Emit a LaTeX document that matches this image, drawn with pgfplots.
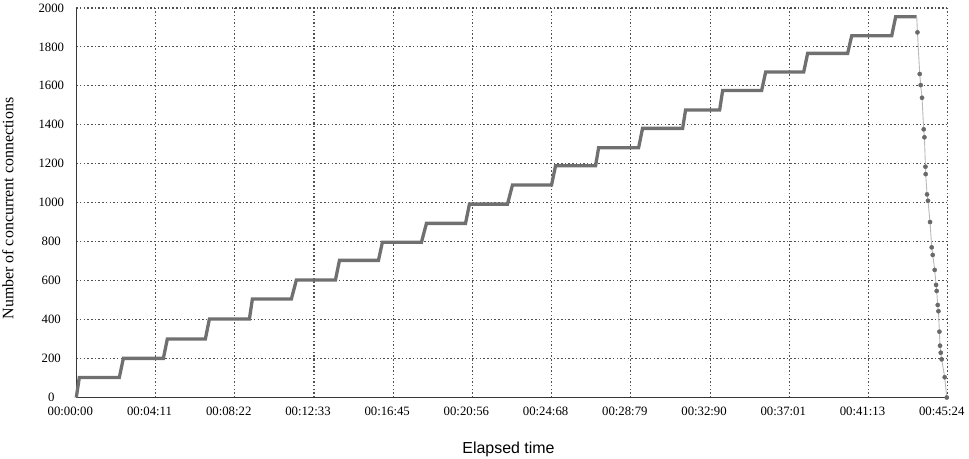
\documentclass[border=0pt]{standalone}
\usepackage{fontspec}
\setmainfont{Liberation Serif}
\newfontfamily\arialfont{Liberation Sans}
\usepackage{pgfplots}
\pgfplotsset{compat=1.18}
\definecolor{stair}{RGB}{112,112,112}
\definecolor{dropline}{RGB}{185,185,185}
\definecolor{dropmark}{RGB}{105,105,105}
\definecolor{gridc}{RGB}{80,80,80}
\definecolor{axc}{RGB}{55,55,55}
\begin{document}
\begin{tikzpicture}
\begin{axis}[
  name=ax,
  scale only axis,
  width=871.4bp, height=389.5bp,
  xmin=0, xmax=11, ymin=0, ymax=2000,
  axis x line*=bottom, axis y line*=left,
  axis line style={-, color=axc, line width=1bp},
  xtick={0,1,2,3,4,5,6,7,8,9,10,11},
  xticklabels={00:00:00,00:04:11,00:08:22,00:12:33,00:16:45,00:20:56,00:24:68,00:28:79,00:32:90,00:37:01,00:41:13,00:45:24},
  ytick={0,200,400,600,800,1000,1200,1400,1600,1800,2000},
  yticklabels={0,200,400,600,800,1000,1200,1400,1600,1800,2000},
  major tick length=0pt,
  grid=major,
  major grid style={color=gridc, line width=1.1bp, dash pattern=on 1.5bp off 2.2bp},
  xticklabel style={font=\fontsize{12.8}{14}\selectfont, anchor=base, yshift=-17.5bp, xshift=-6bp},
  yticklabel style={font=\fontsize{12.8}{14}\selectfont, anchor=base, xshift=-25bp, yshift=-4.1bp},
  xlabel={\arialfont Elapsed time},
  xlabel style={font=\fontsize{16}{18}\selectfont, at={(axis description cs:0.496,-0.1425)}, anchor=base},
  ylabel={Number of concurrent connections},
  ylabel style={font=\fontsize{16}{18}\selectfont, at={(axis description cs:-0.0723,0.485)}, anchor=base, rotate=0},
  clip=false,
]
% stair series
\addplot[color=stair, line width=3.3bp, line join=miter] coordinates {
(0,0) (0.038,103) (0.543,103) (0.594,201) (1.099,201) (1.149,300)
(1.629,300) (1.680,403) (2.185,403) (2.223,506) (2.715,506) (2.778,603)
(3.271,603) (3.322,704) (3.814,704) (3.864,797) (4.357,797) (4.420,894)
(4.913,894) (4.963,993) (5.443,993) (5.506,1091) (5.999,1091) (6.050,1190)
(6.555,1190) (6.593,1282) (7.098,1282) (7.148,1382) (7.654,1382) (7.691,1476)
(8.121,1476) (8.159,1576) (8.651,1576) (8.702,1671) (9.182,1671) (9.232,1767)
(9.737,1767) (9.788,1857) (10.293,1857) (10.343,1955) (10.609,1955)
};
% ramp-down line
\addplot[color=dropline, line width=0.9bp] coordinates {
(10.609,1955) (10.618,1875) (10.647,1661) (10.659,1604) (10.676,1539)
(10.697,1377) (10.706,1336) (10.719,1185) (10.722,1147) (10.739,1043)
(10.751,1010) (10.777,901) (10.798,771) (10.811,732) (10.836,655)
(10.853,578) (10.861,547) (10.874,475) (10.883,443) (10.895,338)
(10.903,266) (10.912,230) (10.924,196) (10.962,104) (10.988,0)
};
% ramp-down samples
\addplot[only marks, mark=*, mark size=2.1bp, color=dropmark] coordinates {
(10.618,1875) (10.647,1661) (10.659,1604) (10.676,1539)
(10.697,1377) (10.706,1336) (10.719,1185) (10.722,1147) (10.739,1043)
(10.751,1010) (10.777,901) (10.798,771) (10.811,732) (10.836,655)
(10.853,578) (10.861,547) (10.874,475) (10.883,443) (10.895,338)
(10.903,266) (10.912,230) (10.924,196) (10.962,104) (10.988,0)
};
\end{axis}
\pgfresetboundingbox
\path ([shift={(-76.3bp,-61.5bp)}]ax.south west) rectangle ([shift={(21.3bp,8bp)}]ax.north east);
\end{tikzpicture}
\end{document}
